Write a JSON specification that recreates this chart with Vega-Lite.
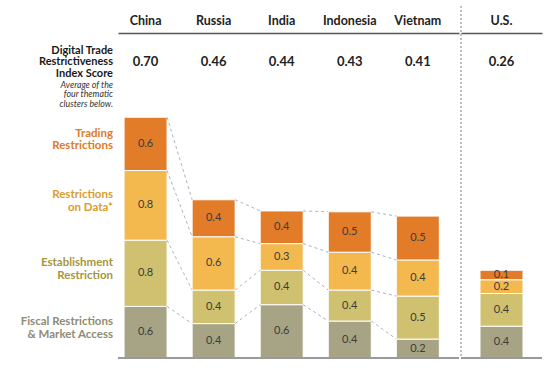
{
  "$schema": "https://vega.github.io/schema/vega-lite/v6.json",
  "padding": {"left": 20, "top": 5, "right": 5, "bottom": 5},
  "datasets": {
    "segments": [
      {"country": "China", "cluster": "Fiscal Restrictions & Market Access", "value": 0.60},
      {"country": "China", "cluster": "Establishment Restriction", "value": 0.77},
      {"country": "China", "cluster": "Restrictions on Data*", "value": 0.81},
      {"country": "China", "cluster": "Trading Restrictions", "value": 0.62},
      {"country": "Russia", "cluster": "Fiscal Restrictions & Market Access", "value": 0.40},
      {"country": "Russia", "cluster": "Establishment Restriction", "value": 0.39},
      {"country": "Russia", "cluster": "Restrictions on Data*", "value": 0.62},
      {"country": "Russia", "cluster": "Trading Restrictions", "value": 0.43},
      {"country": "India", "cluster": "Fiscal Restrictions & Market Access", "value": 0.62},
      {"country": "India", "cluster": "Establishment Restriction", "value": 0.40},
      {"country": "India", "cluster": "Restrictions on Data*", "value": 0.31},
      {"country": "India", "cluster": "Trading Restrictions", "value": 0.38},
      {"country": "Indonesia", "cluster": "Fiscal Restrictions & Market Access", "value": 0.43},
      {"country": "Indonesia", "cluster": "Establishment Restriction", "value": 0.36},
      {"country": "Indonesia", "cluster": "Restrictions on Data*", "value": 0.44},
      {"country": "Indonesia", "cluster": "Trading Restrictions", "value": 0.47},
      {"country": "Vietnam", "cluster": "Fiscal Restrictions & Market Access", "value": 0.22},
      {"country": "Vietnam", "cluster": "Establishment Restriction", "value": 0.50},
      {"country": "Vietnam", "cluster": "Restrictions on Data*", "value": 0.42},
      {"country": "Vietnam", "cluster": "Trading Restrictions", "value": 0.51},
      {"country": "U.S.", "cluster": "Fiscal Restrictions & Market Access", "value": 0.37},
      {"country": "U.S.", "cluster": "Establishment Restriction", "value": 0.38},
      {"country": "U.S.", "cluster": "Restrictions on Data*", "value": 0.16},
      {"country": "U.S.", "cluster": "Trading Restrictions", "value": 0.11}
    ],
    "scores": [
      {"country": "China", "score": 0.70},
      {"country": "Russia", "score": 0.46},
      {"country": "India", "score": 0.44},
      {"country": "Indonesia", "score": 0.43},
      {"country": "Vietnam", "score": 0.41},
      {"country": "U.S.", "score": 0.26}
    ],
    "clusters": [
      {"cluster": "Trading Restrictions", "lines": ["Trading", "Restrictions"]},
      {"cluster": "Restrictions on Data*", "lines": ["Restrictions", "on Data*"]},
      {"cluster": "Establishment Restriction", "lines": ["Establishment", "Restriction"]},
      {"cluster": "Fiscal Restrictions & Market Access", "lines": ["Fiscal Restrictions", "& Market Access"]}
    ]
  },
  "spacing": 0,
  "hconcat": [
    {
      "width": 341,
      "height": 325,
      "layer": [
        {
          "data": {"name": "segments"},
          "transform": [
            {"filter": "datum.country !== 'U.S.'"},
            {"stack": "value", "groupby": ["country"], "as": ["y0", "y1"]}
          ],
          "mark": {"type": "bar", "width": 43, "stroke": "#ffffff", "strokeWidth": 1},
          "encoding": {
            "x": {"field": "country", "type": "nominal", "title": null,
              "scale": {"domain": ["China", "Russia", "India", "Indonesia", "Vietnam"], "paddingInner": 0.19, "paddingOuter": 0.1, "align": 0},
              "axis": {"orient": "top", "title": null, "labelAngle": 0}},
            "y": {"field": "y0", "type": "quantitative", "title": null, "scale": {"domain": [0, 3.779], "nice": false, "zero": true}, "axis": null},
            "y2": {"field": "y1"},
            "color": {"field": "cluster", "type": "nominal", "legend": null,
              "scale": {"domain": ["Trading Restrictions", "Restrictions on Data*", "Establishment Restriction", "Fiscal Restrictions & Market Access"],
                        "range": ["#E27C29", "#F3B94E", "#CFC16F", "#A7A486"]}}
          }
        },
        {
          "data": {"name": "segments"},
          "transform": [
            {"filter": "datum.country !== 'U.S.'"},
            {"stack": "value", "groupby": ["country"], "as": ["y0", "y1"]},
            {"calculate": "(datum.y0 + datum.y1) / 2", "as": "mid"}
          ],
          "mark": {"type": "text", "fontSize": 11, "color": "#3b3b3b", "baseline": "middle"},
          "encoding": {
            "x": {"field": "country", "type": "nominal", "title": null},
            "y": {"field": "mid", "type": "quantitative", "title": null},
            "text": {"field": "value", "type": "quantitative", "format": ".1f"}
          }
        },
        {
          "data": {"name": "segments"},
          "transform": [
            {"filter": "datum.country !== 'U.S.'"},
            {"stack": "value", "groupby": ["country"], "as": ["y0", "y1"]},
            {"window": [{"op": "lead", "field": "y1", "as": "ny1"}, {"op": "lead", "field": "country", "as": "next"}], "groupby": ["cluster"]},
            {"filter": "datum.next != null"}
          ],
          "mark": {"type": "rule", "strokeDash": [3, 3], "color": "#a9b2c3", "strokeWidth": 1, "xOffset": 21.5, "x2Offset": -21.5},
          "encoding": {
            "x": {"field": "country", "type": "nominal", "title": null},
            "x2": {"field": "next"},
            "y": {"field": "y1", "type": "quantitative", "title": null},
            "y2": {"field": "ny1"}
          }
        },
        {
          "data": {"name": "segments"},
          "transform": [
            {"filter": "datum.country === 'China'"},
            {"stack": "value", "groupby": ["country"], "as": ["y0", "y1"]},
            {"calculate": "(datum.y0 + datum.y1) / 2", "as": "mid"},
            {"lookup": "cluster", "from": {"data": {"name": "clusters"}, "key": "cluster", "fields": ["lines"]}}
          ],
          "mark": {"type": "text", "align": "right", "baseline": "middle", "fontWeight": "bold", "fontSize": 11.5, "lineHeight": 12.5, "dx": -5, "dy": -10},
          "encoding": {
            "x": {"field": "country", "type": "nominal", "bandPosition": 0, "title": null},
            "y": {"field": "mid", "type": "quantitative", "title": null},
            "text": {"field": "lines", "type": "nominal"},
            "color": {"field": "cluster", "type": "nominal", "legend": null,
              "scale": {"domain": ["Trading Restrictions", "Restrictions on Data*", "Establishment Restriction", "Fiscal Restrictions & Market Access"],
                        "range": ["#E07A27", "#D89E2E", "#A6963B", "#8F8C72"]}}
          }
        },
        {
          "data": {"name": "scores"},
          "transform": [{"filter": "datum.country !== 'U.S.'"}],
          "mark": {"type": "text", "fontWeight": "bold", "fontSize": 13, "color": "#222222", "baseline": "middle"},
          "encoding": {
            "x": {"field": "country", "type": "nominal", "title": null},
            "y": {"datum": 3.442, "type": "quantitative"},
            "text": {"field": "score", "type": "quantitative", "format": ".2f"}
          }
        },
        {
          "data": {"values": [{"lines": ["Digital Trade", "Restrictiveness", "Index Score"]}]},
          "mark": {"type": "text", "align": "right", "baseline": "top", "fontWeight": "bold", "fontSize": 11, "lineHeight": 11.5, "dx": -5, "color": "#1a1a1a"},
          "encoding": {
            "x": {"datum": "China", "type": "nominal", "bandPosition": 0},
            "y": {"datum": 3.64, "type": "quantitative"},
            "text": {"field": "lines", "type": "nominal"}
          }
        },
        {
          "data": {"values": [{"lines": ["Average of the", "four thematic", "clusters below."]}]},
          "mark": {"type": "text", "align": "right", "baseline": "top", "fontStyle": "italic", "fontSize": 8.8, "lineHeight": 9.8, "dx": -5, "color": "#333333"},
          "encoding": {
            "x": {"datum": "China", "type": "nominal", "bandPosition": 0},
            "y": {"datum": 3.225, "type": "quantitative"},
            "text": {"field": "lines", "type": "nominal"}
          }
        },
        {
          "data": {"values": [{}]},
          "mark": {"type": "rule", "color": "#9a9a9a", "strokeWidth": 2},
          "encoding": {"y": {"datum": 0, "type": "quantitative"}}
        }
      ],
      "resolve": {"scale": {"color": "independent"}}
    },
    {
      "width": 81,
      "height": 325,
      "layer": [
        {
          "data": {"name": "segments"},
          "transform": [
            {"filter": "datum.country === 'U.S.'"},
            {"stack": "value", "groupby": ["country"], "as": ["y0", "y1"]}
          ],
          "mark": {"type": "bar", "width": 43, "stroke": "#ffffff", "strokeWidth": 1},
          "encoding": {
            "x": {"field": "country", "type": "nominal", "title": null,
              "scale": {"domain": ["U.S."], "paddingInner": 0, "paddingOuter": 0},
              "axis": {"orient": "top", "title": null, "labelAngle": 0}},
            "y": {"field": "y0", "type": "quantitative", "title": null, "scale": {"domain": [0, 3.779], "nice": false, "zero": true}, "axis": null},
            "y2": {"field": "y1"},
            "color": {"field": "cluster", "type": "nominal", "legend": null,
              "scale": {"domain": ["Trading Restrictions", "Restrictions on Data*", "Establishment Restriction", "Fiscal Restrictions & Market Access"],
                        "range": ["#E27C29", "#F3B94E", "#CFC16F", "#A7A486"]}}
          }
        },
        {
          "data": {"name": "segments"},
          "transform": [
            {"filter": "datum.country === 'U.S.'"},
            {"stack": "value", "groupby": ["country"], "as": ["y0", "y1"]},
            {"calculate": "(datum.y0 + datum.y1) / 2", "as": "mid"}
          ],
          "mark": {"type": "text", "fontSize": 11, "color": "#3b3b3b", "baseline": "middle"},
          "encoding": {
            "x": {"field": "country", "type": "nominal", "title": null},
            "y": {"field": "mid", "type": "quantitative", "title": null},
            "text": {"field": "value", "type": "quantitative", "format": ".1f"}
          }
        },
        {
          "data": {"name": "scores"},
          "transform": [{"filter": "datum.country === 'U.S.'"}],
          "mark": {"type": "text", "fontWeight": "bold", "fontSize": 13, "color": "#222222", "baseline": "middle"},
          "encoding": {
            "x": {"field": "country", "type": "nominal", "title": null},
            "y": {"datum": 3.442, "type": "quantitative"},
            "text": {"field": "score", "type": "quantitative", "format": ".2f"}
          }
        },
        {
          "data": {"values": [{}]},
          "mark": {"type": "rule", "color": "#aaaaaa", "strokeWidth": 1.5, "strokeDash": [2, 2]},
          "encoding": {
            "x": {"datum": "U.S.", "type": "nominal", "bandPosition": 0},
            "y": {"datum": 4.093, "type": "quantitative"},
            "y2": {"datum": 0}
          }
        },
        {
          "data": {"values": [{}]},
          "mark": {"type": "rule", "color": "#9a9a9a", "strokeWidth": 2},
          "encoding": {"y": {"datum": 0, "type": "quantitative"}}
        }
      ]
    }
  ],
  "config": {
    "view": {"stroke": null},
    "font": "Lato",
    "axis": {
      "domainColor": "#555555",
      "domainWidth": 1.5,
      "ticks": false,
      "grid": false,
      "labelFont": "Lato",
      "labelFontSize": 12.5,
      "labelFontWeight": "bold",
      "labelColor": "#222222",
      "labelPadding": 6
    }
  }
}
